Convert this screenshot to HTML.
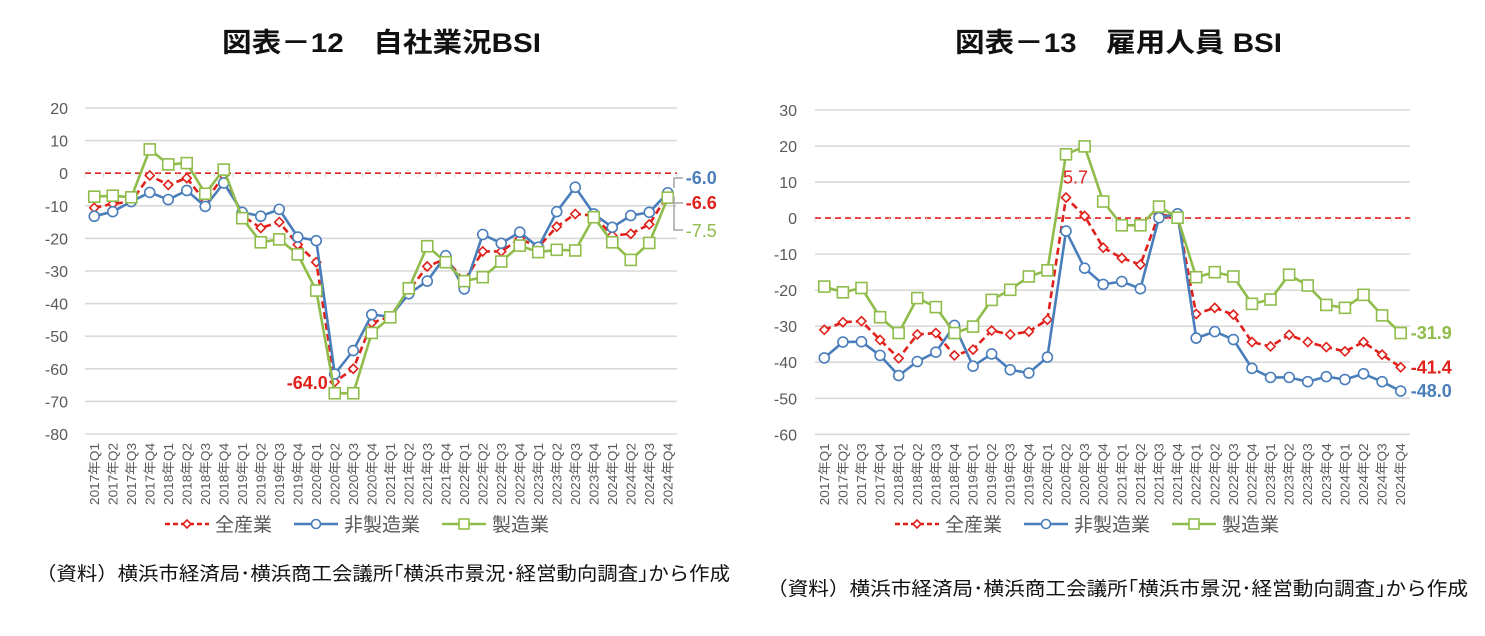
<!DOCTYPE html>
<html><head><meta charset="utf-8">
<style>
html,body{margin:0;padding:0;background:#fff;}
svg{display:block;font-family:"Liberation Sans","Noto Sans CJK JP",sans-serif;}
</style></head>
<body>
<svg id="svg" width="1485" height="636" viewBox="0 0 1485 636">
<text x="222" y="52" textLength="319" lengthAdjust="spacingAndGlyphs" font-size="27" font-weight="bold" fill="#111">図表－12　自社業況BSI</text>
<text x="955" y="52" textLength="327" lengthAdjust="spacingAndGlyphs" font-size="27" font-weight="bold" fill="#111">図表－13　雇用人員 BSI</text>
<text x="36" y="580" textLength="694" lengthAdjust="spacingAndGlyphs" font-size="19" fill="#111">（資料）横浜市経済局･横浜商工会議所｢横浜市景況･経営動向調査｣から作成</text>
<text x="767" y="595" textLength="701" lengthAdjust="spacingAndGlyphs" font-size="19" fill="#111">（資料）横浜市経済局･横浜商工会議所｢横浜市景況･経営動向調査｣から作成</text>
</svg>
<script>
const categories = (function(){const a=[];for(let y=2017;y<=2024;y++)for(let q=1;q<=4;q++)a.push(y+'年Q'+q);return a;})();
const ticks12 = [20,10,0,-10,-20,-30,-40,-50,-60,-70,-80];
const all12 = [-10.6,-9.4,-8.7,-0.7,-3.6,-1.5,-8.7,-0.7,-13.0,-16.8,-15.0,-21.9,-27.3,-64.0,-60.0,-45.9,-44.0,-36.0,-28.6,-26.3,-33.0,-24.0,-24.0,-20.1,-22.7,-16.4,-12.5,-13.0,-19.1,-18.6,-15.7,-6.6];
const nonmfg12 = [-13.2,-11.8,-8.7,-5.9,-8.1,-5.3,-10.2,-3.0,-12.0,-13.2,-11.1,-19.6,-20.7,-61.6,-54.4,-43.4,-44.0,-37.0,-33.1,-25.3,-35.5,-18.8,-21.5,-18.1,-22.7,-11.8,-4.3,-12.5,-16.6,-13.0,-12.0,-6.0];
const mfg12 = [-7.2,-6.9,-7.4,7.3,2.7,3.1,-6.3,1.1,-13.8,-21.2,-20.3,-24.9,-36.0,-67.5,-67.5,-49.0,-44.2,-35.3,-22.4,-27.3,-33.1,-31.9,-27.1,-22.2,-24.2,-23.5,-23.7,-13.5,-21.2,-26.6,-21.4,-7.5];
const ticks13 = [30,20,10,0,-10,-20,-30,-40,-50,-60];
const all13 = [-31.0,-28.9,-28.6,-33.8,-38.9,-32.3,-31.9,-38.1,-36.5,-31.2,-32.3,-31.5,-28.2,5.7,0.6,-8.2,-11.1,-12.9,1.0,0.3,-26.6,-24.9,-26.8,-34.4,-35.6,-32.4,-34.4,-35.8,-37.0,-34.4,-37.9,-41.4];
const nonmfg13 = [-38.8,-34.4,-34.3,-38.1,-43.7,-39.8,-37.2,-29.8,-41.1,-37.7,-42.1,-43.0,-38.6,-3.6,-13.9,-18.4,-17.6,-19.6,0.1,1.2,-33.3,-31.5,-33.7,-41.7,-44.2,-44.2,-45.4,-44.0,-44.8,-43.2,-45.4,-48.0];
const mfg13 = [-19.0,-20.6,-19.4,-27.5,-31.9,-22.2,-24.7,-31.9,-30.1,-22.7,-19.9,-16.2,-14.5,17.7,19.9,4.6,-2.0,-2.0,3.2,0.1,-16.4,-15.0,-16.2,-23.8,-22.6,-15.7,-18.7,-24.1,-24.9,-21.3,-27.0,-31.9];

const NS='http://www.w3.org/2000/svg';
const svg=document.getElementById('svg');
function mk(tag,attrs,parent){const e=document.createElementNS(NS,tag);for(const k in attrs)e.setAttribute(k,attrs[k]);(parent||svg).appendChild(e);return e;}
const RED='#e0201b',BLUE='#4a7ebb',GREEN='#8fbc4a';

function drawChart(id,g,ticks,series,labels,legendX){
  const grp=mk('g',{});
  
  
  const n=categories.length, cw=(g.x1-g.x0)/n;
  const X=i=>g.x0+cw*(i+0.5);
  const Y=v=>g.yTop+(ticks[0]-v)*(g.yBot-g.yTop)/(ticks[0]-ticks[ticks.length-1]);
  ticks.forEach(t=>{
    if(t!==0){const l=mk('line',{x1:g.x0,x2:g.x1,y1:Y(t),y2:Y(t),stroke:'#d9d9d9','stroke-width':1.6},grp);
    
    }
    const tx=mk('text',{x:g.lx,y:Y(t)+6,'text-anchor':'end','font-size':16,fill:'#595959'},grp);
    tx.textContent=t;
    
    
  });
  const z=mk('line',{x1:g.x0,x2:g.x1,y1:Y(0),y2:Y(0),stroke:RED,'stroke-width':1.6,'stroke-dasharray':'6,4'},grp);
  
  
  for(let i=0;i<=n;i++){const tk=mk('line',{x1:g.x0+cw*i,x2:g.x0+cw*i,y1:Y(0),y2:Y(0)+4,stroke:'#d9d9d9','stroke-width':1},grp);
    
    }
  categories.forEach((c,i)=>{
    const t=mk('text',{x:0,y:0,'font-size':13,fill:'#595959','text-anchor':'end',textLength:62,lengthAdjust:'spacingAndGlyphs',transform:`translate(${X(i)+4.5},${g.yBot+9}) rotate(-90)`},grp);
    t.textContent=c;
    
    
  });
  series.forEach(s=>{
    const d=s.data.map((v,i)=>(i?'L':'M')+X(i).toFixed(1)+' '+Y(v).toFixed(1)).join(' ');
    const p=mk('path',{d,fill:'none',stroke:s.color,'stroke-width':2.6,'stroke-dasharray':s.dash||'none','stroke-linejoin':'round'},grp);
    
    
    s.data.forEach((v,i)=>{
      let m;
      if(s.marker==='circle')m=mk('circle',{cx:X(i),cy:Y(v),r:5,fill:'#fff',stroke:s.color,'stroke-width':1.6},grp);
      else if(s.marker==='square')m=mk('rect',{x:X(i)-5.5,y:Y(v)-5.5,width:11,height:11,fill:'#fff',stroke:s.color,'stroke-width':1.6},grp);
      else m=mk('path',{d:`M${X(i)} ${Y(v)-4.5}L${X(i)+4.5} ${Y(v)}L${X(i)} ${Y(v)+4.5}L${X(i)-4.5} ${Y(v)}Z`,fill:'#fff',stroke:s.color,'stroke-width':1.6},grp);
      
      
    });
  });
  labels.forEach(L=>{
    const s=series[L.s];const v=s.data[L.i];
    const ty = (L.y!==undefined)? L.y : Y(v)+L.dy;
    const t=mk('text',{x:X(L.i)+L.dx,y:ty,'font-size':18,'font-weight':L.normal?'normal':'bold',fill:s.color},grp);
    t.textContent=v.toFixed(1);
    
    
  });
  const ly=524;
  const items=[{n:'全産業',c:RED,m:'diamond',dash:'5,3'},{n:'非製造業',c:BLUE,m:'circle'},{n:'製造業',c:GREEN,m:'square'}];
  let x=legendX;
  items.forEach(it=>{
    const lg=mk('g',{},grp);
    
    
    mk('line',{x1:x,x2:x+44,y1:ly,y2:ly,stroke:it.c,'stroke-width':2.6,'stroke-dasharray':it.dash||'none'},lg);
    if(it.m==='circle')mk('circle',{cx:x+22,cy:ly,r:4.5,fill:'#fff',stroke:it.c,'stroke-width':1.6},lg);
    else if(it.m==='square')mk('rect',{x:x+17,y:ly-5,width:10,height:10,fill:'#fff',stroke:it.c,'stroke-width':1.6},lg);
    else mk('path',{d:`M${x+22} ${ly-4}L${x+26} ${ly}L${x+22} ${ly+4}L${x+18} ${ly}Z`,fill:'#fff',stroke:it.c,'stroke-width':1.6},lg);
    const t=mk('text',{x:x+50,y:ly+7,'font-size':19,fill:'#595959'},lg);
    t.textContent=it.n;
    x+=50+it.n.length*19+22;
  });
}

drawChart('chart12',{x0:85,x1:677,yTop:108,yBot:434,lx:68},ticks12,
 [{name:'all-industries',data:all12,color:RED,marker:'diamond',dash:'7,4'},
  {name:'non-manufacturing',data:nonmfg12,color:BLUE,marker:'circle'},
  {name:'manufacturing',data:mfg12,color:GREEN,marker:'square'}],
 [{s:0,i:13,dx:-48,dy:7},{s:1,i:31,dx:18,y:184},{s:0,i:31,dx:18,y:209},{s:2,i:31,dx:18,y:237,normal:true}],165);

drawChart('chart13',{x0:815,x1:1410,yTop:110,yBot:434.3,lx:797},ticks13,
 [{name:'all-industries',data:all13,color:RED,marker:'diamond',dash:'7,4'},
  {name:'non-manufacturing',data:nonmfg13,color:BLUE,marker:'circle'},
  {name:'manufacturing',data:mfg13,color:GREEN,marker:'square'}],
 [{s:0,i:13,dx:-3,dy:-14,normal:true},{s:2,i:31,dx:10,dy:6},{s:0,i:31,dx:10,dy:6},{s:1,i:31,dx:10,dy:6}],895);

const ll=mk('path',{d:'M683 178 L674 178 L674 188 M683 203 L672 203 M674 196 L674 230 L683 230',fill:'none',stroke:'#a6a6a6','stroke-width':1.5});


</script>
</body></html>
